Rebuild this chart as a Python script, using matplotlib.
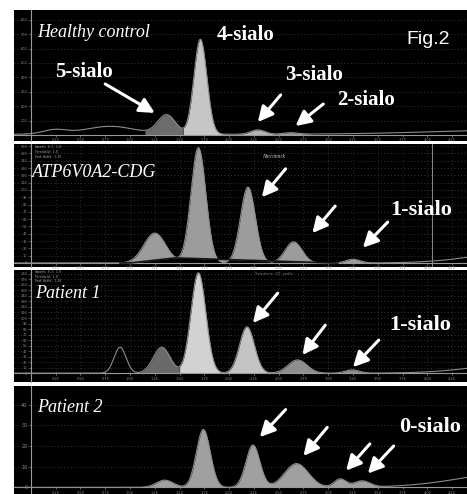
import numpy as np
import matplotlib.pyplot as plt

# migration axis (arbitrary time units) shared by all four traces
x = np.linspace(-0.17, 4.4, 1500)

# Healthy control: filled transferrin peaks
hc_pos = [1.37, 1.71, 2.29, 2.62]
hc_height = [132, 660, 30, 10]
hc_width = [0.09, 0.065, 0.07, 0.07]
# background bumps / drift (not filled)
hc_bg_pos = [0.24, 0.80, 5.0]
hc_bg_height = [30, 55, 30]
hc_bg_width = [0.12, 0.25, 0.9]
hc_offset = 5
hc_segments = [(1.15, 1.535), (1.535, 1.98), (2.08, 2.46), (2.46, 2.82)]
hc_colors = ['#6c6c6c', '#c6c6c6', '#b4b4b4', '#a0a0a0']

# ATP6V0A2-CDG
atp_pos = [1.25, 1.69, 2.19, 2.65, 3.25]
atp_height = [41, 158, 104, 29, 5]
atp_width = [0.11, 0.075, 0.075, 0.085, 0.07]
atp_bg_pos = [5.0]
atp_bg_height = [16]
atp_bg_width = [0.5]
atp_floor_x = [1.0, 1.45, 3.02]
atp_floor_y = [0, 7, 0]
atp_segments = [(0.85, 3.55)]
atp_colors = ['#9c9c9c']

# Patient 1
p1_pos = [1.32, 1.69, 2.18, 2.69, 3.24]
p1_height = [47, 182, 84, 24, 6]
p1_width = [0.085, 0.075, 0.075, 0.095, 0.07]
p1_bg_pos = [0.90, 5.0]
p1_bg_height = [47, 18]
p1_bg_width = [0.06, 0.5]
p1_segments = [(1.08, 1.50), (1.50, 1.93), (1.93, 2.43), (2.43, 3.0), (3.04, 3.46)]
p1_colors = ['#6a6a6a', '#d2d2d2', '#c4c4c4', '#8e8e8e', '#8e8e8e']

# Patient 2
p2_pos = [1.35, 1.74, 2.24, 2.68, 3.12, 3.34]
p2_height = [3.5, 28, 20.5, 11.5, 4, 3]
p2_width = [0.085, 0.07, 0.07, 0.12, 0.06, 0.08]
p2_bg_pos = [5.0]
p2_bg_height = [8]
p2_bg_width = [0.6]
p2_segments = [(1.05, 3.62)]
p2_colors = ['#a0a0a0']


def gauss_sum(pos, height, width):
    y = np.zeros_like(x)
    for m, h, s in zip(pos, height, width):
        y += h * np.exp(-0.5 * ((x - m) / s) ** 2)
    return y


W, H = 467, 494


def panel_rect(top, bottom):
    return [14 / W, (H - bottom) / H, (W - 14) / W, (bottom - top) / H]


def draw_panel(ax, curve, floor, segments, colors, ylim, ystep, xgrid):
    ax.set_facecolor('black')
    ax.set_xlim(-0.17, 4.4)
    ax.set_ylim(*ylim)
    for (a, b), c in zip(segments, colors):
        m = (x >= a) & (x <= b)
        ax.fill_between(x[m], floor[m], curve[m], color=c, lw=0, zorder=2)
    ax.plot(x, curve, color='#8c8c8c', lw=0.8, zorder=3)
    for s in ['top', 'right']:
        ax.spines[s].set_visible(False)
    ax.spines['left'].set_position(('data', 0))
    ax.spines['bottom'].set_position(('data', 0))
    for s in ['left', 'bottom']:
        ax.spines[s].set_color('#9a9a9a')
        ax.spines[s].set_linewidth(0.8)
    ax.set_xticks(np.arange(0.25, 4.4, 0.25))
    ax.set_yticks(np.arange(0, ylim[1], ystep))
    ax.xaxis.set_major_formatter('{x:.2f}')
    ax.tick_params(colors='#8a8a8a', labelsize=2.5, length=1.5, width=0.5, pad=1)
    ax.grid(axis='y', linestyle=(0, (1, 3)), color='#4a4a4a', lw=0.6, zorder=1)
    if xgrid:
        ax.grid(axis='x', linestyle=(0, (1, 3)), color='#3a3a3a', lw=0.6, zorder=1)


def arrow(ax, head, tail):
    ax.annotate('', xy=head, xytext=tail, zorder=6,
                arrowprops=dict(arrowstyle='-|>,head_length=0.75,head_width=0.38',
                                color='white', lw=2.2, mutation_scale=12,
                                shrinkA=0, shrinkB=0))


serif = 'Liberation Serif'
lab_kw = dict(color='white', family=serif, fontweight='bold', ha='center', va='center', zorder=7)
ital_kw = dict(color='white', family=serif, style='italic', ha='left', va='center', zorder=7)
tiny_kw = dict(color='#b0b0b0', fontsize=2.0, family='DejaVu Sans Mono', ha='left', va='top')
header = 'Smooth: 0.7, 1.0\nThreshold: 1.0\nPeak Width: 1.50'

fig = plt.figure(figsize=(W / 100, H / 100), dpi=100, facecolor='white')

# ---- Healthy control
ax1 = fig.add_axes(panel_rect(10, 141))
hc_curve = hc_offset + gauss_sum(hc_bg_pos, hc_bg_height, hc_bg_width) + gauss_sum(hc_pos, hc_height, hc_width)
draw_panel(ax1, hc_curve, np.zeros_like(x), hc_segments, hc_colors, (-42, 868), 100, False)
ax1.text(0.06, 715, 'Healthy control', fontsize=13, **ital_kw)
ax1.text(2.17, 694, '4-sialo', fontsize=15, **lab_kw)
ax1.text(0.54, 437, '5-sialo', fontsize=15, **lab_kw)
ax1.text(2.86, 417, '3-sialo', fontsize=15, **lab_kw)
ax1.text(3.38, 243, '2-sialo', fontsize=15, **lab_kw)
ax1.text(4.01, 660, 'Fig.2', fontsize=14, color='white', family='Liberation Sans',
         ha='center', va='center')
arrow(ax1, (1.25, 153), (0.75, 354))
arrow(ax1, (2.29, 90), (2.52, 278))
arrow(ax1, (2.67, 62), (2.95, 215))

# ---- ATP6V0A2-CDG
ax2 = fig.add_axes(panel_rect(144, 267))
atp_curve = gauss_sum(atp_bg_pos, atp_bg_height, atp_bg_width) + gauss_sum(atp_pos, atp_height, atp_width)
atp_floor = np.interp(x, atp_floor_x, atp_floor_y)
draw_panel(ax2, atp_curve, atp_floor, atp_segments, atp_colors, (-5.5, 163), 10, True)
m = (x > 0.9) & (x < 3.1)
ax2.plot(x[m], atp_floor[m], color='#151515', lw=1.2, zorder=4)
ax2.axvline(4.05, color='#8a8a8a', lw=0.7, zorder=2)
ax2.text(0.04, 161.5, header, linespacing=1.25, **tiny_kw)
ax2.text(2.45, 146, 'Nmcimnrk', fontsize=4, color='#c8c8c8', family=serif, style='italic',
         ha='center', va='center')
ax2.text(0.01, 124, 'ATP6V0A2-CDG', fontsize=13, **ital_kw)
ax2.text(3.94, 73, '1-sialo', fontsize=16, **lab_kw)
arrow(ax2, (2.33, 90), (2.57, 129))
arrow(ax2, (2.84, 41), (3.07, 78))
arrow(ax2, (3.35, 21), (3.60, 56))

# ---- Patient 1
ax3 = fig.add_axes(panel_rect(270, 382))
p1_curve = gauss_sum(p1_bg_pos, p1_bg_height, p1_bg_width) + gauss_sum(p1_pos, p1_height, p1_width)
draw_panel(ax3, p1_curve, np.zeros_like(x), p1_segments, p1_colors, (-16, 187), 10, True)
ax3.text(0.04, 186.5, header, linespacing=1.2, **tiny_kw)
ax3.text(2.45, 180, 'Transferrin  IEF  profile', color='#707070', fontsize=2.4, ha='center', va='center')
ax3.text(0.04, 144, 'Patient 1', fontsize=13, **ital_kw)
ax3.text(3.93, 87, '1-sialo', fontsize=16, **lab_kw)
arrow(ax3, (2.24, 91), (2.49, 145))
arrow(ax3, (2.74, 33), (2.97, 87))
arrow(ax3, (3.25, 11), (3.51, 60))

# ---- Patient 2
ax4 = fig.add_axes(panel_rect(386, 494))
p2_curve = gauss_sum(p2_bg_pos, p2_bg_height, p2_bg_width) + gauss_sum(p2_pos, p2_height, p2_width)
draw_panel(ax4, p2_curve, np.zeros_like(x), p2_segments, p2_colors, (-3.2, 49), 10, False)
ax4.tick_params(axis='y', labelsize=3.5)
ax4.text(0.06, 38.6, 'Patient 2', fontsize=13, **ital_kw)
ax4.text(4.03, 29, '0-sialo', fontsize=16, **lab_kw)
arrow(ax4, (2.31, 24.3), (2.57, 37.6))
arrow(ax4, (2.75, 15.2), (2.99, 29))
arrow(ax4, (3.18, 8.1), (3.42, 21))
arrow(ax4, (3.40, 6.7), (3.66, 20))

fig.savefig('out.png', dpi=100, facecolor='white')
